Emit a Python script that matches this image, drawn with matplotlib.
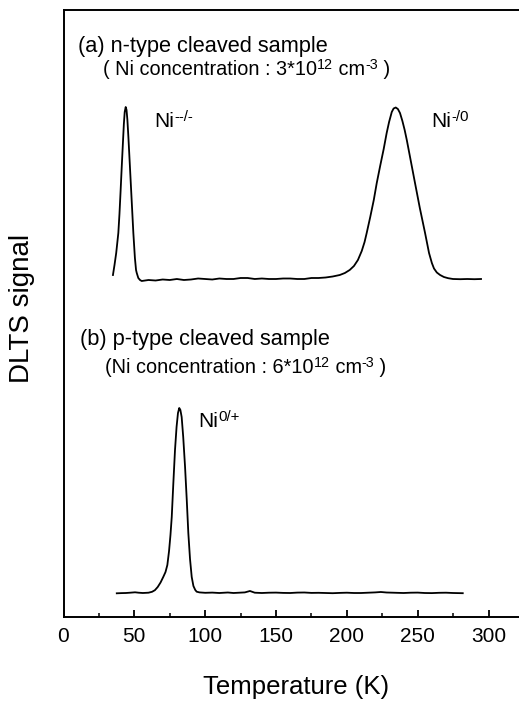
import matplotlib
matplotlib.use("Agg")
import matplotlib.pyplot as plt
from matplotlib.ticker import MultipleLocator

plt.rcParams["font.family"] = ["Liberation Sans", "DejaVu Sans"]

# (a) n-type cleaved sample, DLTS signal (arb. units) vs temperature (K)
temp_a = [34.9, 36.0, 37.2, 38.7, 39.5, 40.3, 41.1, 41.9, 42.6, 43.2, 43.9, 44.5,
          45.1, 45.8, 46.9, 48.1, 49.3, 50.4, 51.2, 51.7, 52.8, 54.0, 55.2,
          60, 65, 70, 75, 80, 85, 90, 95, 100, 105, 110, 115, 120, 125, 130, 135,
          140, 145, 150, 155, 160, 165, 170, 175, 180,
          185, 190, 195, 198.6, 202, 205, 207.8, 210.5, 212.5, 214.0, 216.5, 219,
          221.1, 223.5, 226, 228.1, 229.8, 231.7, 233, 234.5, 236, 237.5, 239.2,
          240.8, 242.3, 245, 248.1, 251.5, 255.2, 258, 260, 261.5, 263.5, 265.8,
          268.5, 271.5, 274.9, 280, 285, 290, 294.7]
signal_a = [342, 352, 364, 384, 403, 426, 450, 473, 493, 505, 510, 507,
            497, 480, 450, 417, 384, 359, 347, 344, 339, 337, 336,
            337, 336.5, 337.5, 337, 338, 337, 337.5, 338.5, 338, 337.5, 338.5, 338, 338, 339, 339, 338,
            338.5, 338, 338, 338.5, 338.5, 338, 338, 339, 339,
            339.5, 340.5, 342, 344, 347, 351, 357, 366, 375, 384, 400, 417,
            434, 451, 468, 484, 495, 505, 508.5, 509.5, 508, 504, 496,
            487, 477, 457, 434, 409, 384, 364, 354, 348.5, 344.5, 342,
            340, 338.8, 338, 337.8, 338, 337.8, 338]

# (b) p-type cleaved sample
temp_b = [37.6, 41, 44, 47, 50.5, 53, 56, 60, 62.5, 64.5, 66.5, 68.5, 70.5, 72,
          73.3, 74.5, 75.5, 76.4, 77.5, 78.7, 79.8, 80.8, 81.7, 82.5, 83.4, 84.5,
          85.8, 87, 88.1, 89.3, 90.5, 91.7, 93, 94, 96, 100, 105, 110, 116, 120,
          124, 128, 131.6, 135, 140, 145, 150, 155, 160, 165, 170, 175, 180, 185,
          190, 195, 200, 205, 210, 215, 220, 224, 228, 235, 240, 245, 250, 255,
          260, 265, 270, 275, 281.8]
signal_b = [23.7, 23.9, 24.0, 24.3, 24.7, 24.3, 24.0, 24.3, 25.2, 26.8, 30, 34.5, 40.3, 45,
            52, 66, 82, 100, 133, 167, 190, 204, 209, 207, 200, 180,
            150, 117, 84, 58, 40, 31, 27, 25.3, 24.6, 24.2, 24.4, 24.0, 24.5, 24.0,
            24.3, 24.6, 26.0, 24.3, 24.0, 24.3, 24.4, 24.1, 24.0, 24.4, 24.5, 24.1, 24.2, 24.0,
            23.8, 24.1, 24.3, 24.0, 24.0, 24.3, 24.6, 25.0, 24.5, 24.2, 24.0, 24.3, 24.4, 24.0,
            23.9, 24.2, 24.3, 24.0, 23.8]

x_ticks = [0, 50, 100, 150, 200, 250, 300]


def rich(ax, x, y, parts, fs):
    """Draw text with superscripts; parts = [(string, is_superscript), ...]."""
    base = ax.text(x, y, parts[0][0], fontsize=fs, va="baseline", ha="left")
    prev = base
    for s, sup in parts[1:]:
        prev = ax.annotate(s, xy=(1, 0), xycoords=(prev, base),
                           xytext=(0, 0.35 * fs if sup else 0), textcoords="offset points",
                           fontsize=fs * 0.72 if sup else fs, va="bottom", ha="left")
    return base


fig = plt.figure(figsize=(5.19, 7.01), dpi=100)
ax = fig.add_axes([63.5 / 519, 84 / 701, 1 - 63.5 / 519, 607 / 701])

ax.plot(temp_a, signal_a, color="black", lw=1.3)
ax.plot(temp_b, signal_b, color="black", lw=1.3)

ax.set_xlim(0, 321.5)
ax.set_ylim(0, 607)
ax.spines["right"].set_visible(False)
for s in ("left", "top", "bottom"):
    ax.spines[s].set_linewidth(1.4)
ax.set_yticks([])
ax.set_xticks(x_ticks)
ax.xaxis.set_minor_locator(MultipleLocator(25))
ax.tick_params(axis="x", which="major", direction="in", length=5, width=1.3,
               labelsize=15, pad=7)
ax.tick_params(axis="x", which="minor", direction="in", length=3, width=1.1)

# panel annotations
ax.text(10.4, 565, "(a) n-type cleaved sample", fontsize=15.7, va="baseline")
rich(ax, 28.1, 542, [("( Ni concentration : 3*10", False), ("12", True),
                     (" cm", False), ("-3", True), (" )", False)], 14.3)
ax.text(11.6, 272, "(b) p-type cleaved sample", fontsize=15.7, va="baseline")
rich(ax, 29.3, 244, [("(Ni concentration : 6*10", False), ("12", True),
                     (" cm", False), ("-3", True), (" )", False)], 14.3)

rich(ax, 63.9, 490, [("Ni", False), ("--/-", True)], 15)
rich(ax, 259.9, 490, [("Ni", False), ("-/0", True)], 15)
rich(ax, 95.2, 190, [("Ni", False), ("0/+", True)], 15)

fig.text(296 / 519, 1 - 687 / 701, "Temperature (K)", fontsize=18.5, ha="center", va="center")
fig.text(22 / 519, 1 - 308 / 701, "DLTS signal", fontsize=20, rotation=90,
         ha="center", va="center")

fig.savefig("out.png", dpi=100)
